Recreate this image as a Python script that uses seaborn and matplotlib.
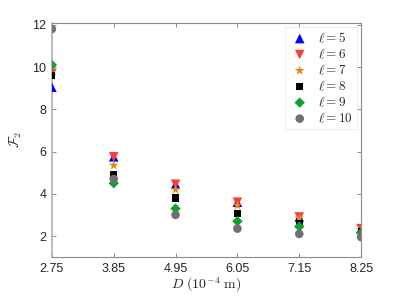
import numpy as np
import pandas as pd
import matplotlib
matplotlib.use("Agg")
import matplotlib.pyplot as plt
import seaborn as sns

# data
D = [2.75, 3.85, 4.95, 6.05, 7.15, 8.25]
ell_labels = [r"$\ell = 5$", r"$\ell = 6$", r"$\ell = 7$", r"$\ell = 8$", r"$\ell = 9$", r"$\ell = 10$"]
F2_l5 = [9.05, 5.75, 4.45, 3.6, 2.9, 2.35]
F2_l6 = [9.7, 5.75, 4.45, 3.6, 2.9, 2.35]
F2_l7 = [9.6, 5.35, 4.2, 3.45, 2.85, 2.3]
F2_l8 = [9.6, 4.9, 3.8, 3.05, 2.6, 2.2]
F2_l9 = [10.1, 4.5, 3.3, 2.7, 2.45, 2.15]
F2_l10 = [11.8, 4.7, 3.0, 2.35, 2.1, 1.95]

series = [F2_l5, F2_l6, F2_l7, F2_l8, F2_l9, F2_l10]
rows = []
for lab, vals in zip(ell_labels, series):
    for d, v in zip(D, vals):
        rows.append({"D": d, "F2": v, "ell": lab})
df = pd.DataFrame(rows)

colors = ["#0000ff", "#ff3b3b", "#e08a10", "#000000", "#10a030", "#707070"]
markers = ["^", "v", "*", "s", "D", "o"]
sizes = [48, 48, 55, 26, 28, 38]

sns.set_style("white")
plt.rcParams["font.family"] = ["Liberation Sans", "DejaVu Sans"]
plt.rcParams["mathtext.fontset"] = "cm"

fig = plt.figure(figsize=(3.99, 2.99), dpi=100)
ax = fig.add_axes([0.13, 0.14, 0.775, 0.784])

for lab, c, m, s in zip(ell_labels, colors, markers, sizes):
    sub = df[df["ell"] == lab]
    sns.scatterplot(data=sub, x="D", y="F2", color=c, marker=m, s=s,
                    edgecolor="none", label=lab, ax=ax, zorder=3)

ax.set_xlim(2.75, 8.25)
ax.set_ylim(1, 12.1)
ax.set_xticks(D)
ax.set_xticklabels([f"{d:.2f}" for d in D])
ax.set_yticks([2, 4, 6, 8, 10, 12])
ax.tick_params(direction="in", length=3, width=0.6, color="#777777",
               labelsize=9, labelcolor="#262626", top=True, right=True,
               bottom=True, left=True, pad=4)
for sp in ax.spines.values():
    sp.set_visible(True)
    sp.set_color("#8a8a8a")
    sp.set_linewidth(0.8)
ax.spines["left"].set_color("#b0b0b0")
ax.spines["left"].set_linewidth(1.2)

ax.set_xlabel(r"$D\ (10^{-4}\ \mathrm{m})$", fontsize=10, labelpad=1)
ax.set_ylabel(r"$\mathcal{F}_2$", fontsize=10, labelpad=6)

leg = ax.legend(loc="upper right", fontsize=9.5, frameon=True, fancybox=False,
                edgecolor="#e6e6e6", borderpad=0.3, labelspacing=0.2,
                handletextpad=0.6, borderaxespad=0.3, handlelength=1.6)
leg.get_frame().set_linewidth(0.6)

fig.savefig("out.png", dpi=100)
